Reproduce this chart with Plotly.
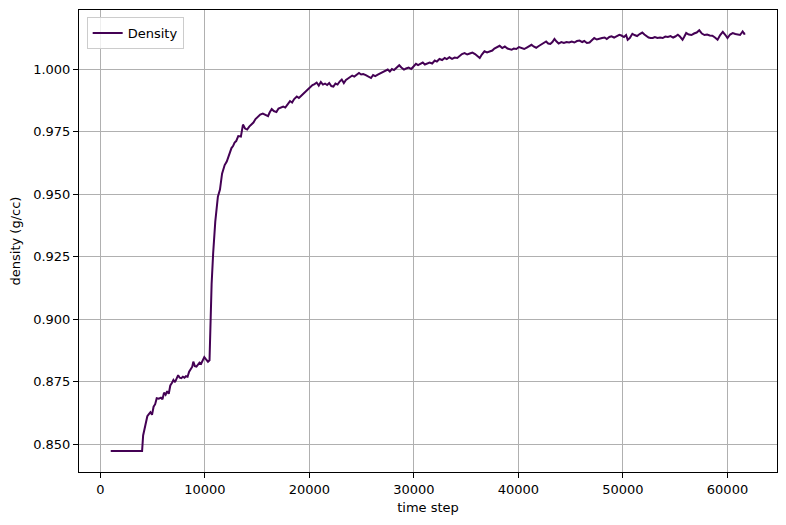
import plotly.graph_objects as go

# time step / density
time_step = [
    1000, 4000, 4100, 4300, 4500, 4650, 4800, 4950, 5100, 5250, 5400, 5600, 5800, 5950,
    6100, 6250, 6400, 6550, 6700, 6850, 7000, 7150, 7300, 7450, 7600, 7750, 7900, 8050,
    8200, 8350, 8500, 8650, 8800, 8900, 9050, 9200, 9350, 9500, 9650, 9800, 9950, 10100,
    10300, 10450, 10550, 10650, 10800, 11000, 11250, 11450, 11650, 11900, 12100, 12250,
    12400, 12550, 12700, 12850, 13000, 13200, 13450, 13650, 13850, 14050, 14250, 14450,
    14650, 14850, 15100, 15300, 15550, 15800, 16050, 16200, 16400, 16600, 16850, 17050,
    17250, 17500, 17700, 17950, 18150, 18350, 18550, 18800, 19000, 19250, 19500, 19700,
    19900, 20100, 20300, 20500, 20700, 20900, 21100, 21300, 21500, 21700, 21900, 22100,
    22300, 22500, 22700, 22900, 23100, 23300, 23500, 23700, 23900, 24100, 24300, 24500,
    24750, 24950, 25150, 25400, 25650, 25900, 26100, 26300, 26550, 26800, 27050, 27300,
    27500, 27700, 27900, 28100, 28350, 28600, 28800, 29050, 29250, 29500, 29750, 30000,
    30200, 30400, 30600, 30850, 31050, 31300, 31500, 31750, 32000, 32200, 32450, 32700,
    32950, 33150, 33400, 33650, 33900, 34150, 34400, 34600, 34850, 35100, 35350, 35600,
    35850, 36050, 36300, 36500, 36750, 37000, 37250, 37500, 37700, 37950, 38200, 38450,
    38700, 38950, 39150, 39350, 39550, 39800, 40050, 40300, 40550, 40800, 41000, 41250,
    41450, 41700, 41950, 42200, 42450, 42650, 42850, 43050, 43250, 43450, 43650, 43850,
    44100, 44350, 44600, 44850, 45100, 45350, 45600, 45850, 46100, 46300, 46550, 46800,
    47050, 47250, 47500, 47750, 48000, 48250, 48450, 48700, 48900, 49150, 49400, 49650,
    49850, 50100, 50300, 50450, 50650, 50900, 51100, 51350, 51600, 51850, 52050, 52250,
    52450, 52650, 52850, 53050, 53300, 53550, 53800, 54050, 54300, 54550, 54800, 55000,
    55250, 55450, 55700, 55850, 56050, 56300, 56550, 56800, 57050, 57300, 57550, 57800,
    58050, 58300, 58550, 58800, 59050, 59300, 59550, 59800, 60000, 60250, 60500, 60750,
    61000, 61200, 61450, 61600, 61700,
]
density = [
    0.8473, 0.8473, 0.8535, 0.8575, 0.8612, 0.8620, 0.8628, 0.8618, 0.8650, 0.8660, 0.8684, 0.8682, 0.8686, 0.8680,
    0.8706, 0.8698, 0.8712, 0.8702, 0.8735, 0.8745, 0.8757, 0.8748, 0.8762, 0.8776, 0.8766, 0.8764, 0.8770, 0.8766,
    0.8772, 0.8770, 0.8790, 0.8798, 0.8810, 0.8830, 0.8812, 0.8810, 0.8820, 0.8826, 0.8822, 0.8838, 0.8848, 0.8840,
    0.8830, 0.8836, 0.9020, 0.9140, 0.9264, 0.9390, 0.9490, 0.9518, 0.9582, 0.9616, 0.9630, 0.9648,
    0.9668, 0.9684, 0.9692, 0.9706, 0.9712, 0.9732, 0.9730, 0.9778, 0.9762, 0.9758, 0.9770, 0.9778,
    0.9786, 0.9800, 0.9810, 0.9818, 0.9822, 0.9818, 0.9812, 0.9826, 0.9840, 0.9832, 0.9828, 0.9842,
    0.9846, 0.9850, 0.9846, 0.9860, 0.9872, 0.9866, 0.9880, 0.9890, 0.9884, 0.9894, 0.9902, 0.9912,
    0.9920, 0.9930, 0.9936, 0.9940, 0.9946, 0.9934, 0.9948, 0.9938, 0.9942, 0.9936, 0.9944, 0.9932,
    0.9930, 0.9942, 0.9938, 0.9950, 0.9958, 0.9944, 0.9956, 0.9962, 0.9968, 0.9974, 0.9970, 0.9978,
    0.9984, 0.9978, 0.9980, 0.9976, 0.9970, 0.9964, 0.9976, 0.9972, 0.9978, 0.9984, 0.9990, 0.9994,
    0.9998, 0.9990, 1.0000, 0.9996, 1.0004, 1.0015, 1.0006, 0.9998, 1.0002, 1.0006, 1.0000, 1.0014,
    1.0021, 1.0016, 1.0020, 1.0026, 1.0018, 1.0024, 1.0026, 1.0022, 1.0034, 1.0030, 1.0040, 1.0036,
    1.0044, 1.0040, 1.0047, 1.0041, 1.0046, 1.0044, 1.0052, 1.0060, 1.0064, 1.0058, 1.0062, 1.0066,
    1.0060, 1.0054, 1.0044, 1.0058, 1.0071, 1.0066, 1.0070, 1.0074, 1.0082, 1.0088, 1.0093, 1.0084,
    1.0090, 1.0082, 1.0078, 1.0077, 1.0082, 1.0080, 1.0088, 1.0084, 1.0080, 1.0086, 1.0090, 1.0097,
    1.0090, 1.0085, 1.0092, 1.0098, 1.0104, 1.0110, 1.0102, 1.0100, 1.0108, 1.0120, 1.0110, 1.0102,
    1.0108, 1.0104, 1.0108, 1.0106, 1.0110, 1.0106, 1.0112, 1.0114, 1.0108, 1.0112, 1.0104, 1.0106,
    1.0116, 1.0124, 1.0118, 1.0122, 1.0124, 1.0126, 1.0120, 1.0128, 1.0131, 1.0126, 1.0132, 1.0137,
    1.0134, 1.0128, 1.0136, 1.0117, 1.0124, 1.0141, 1.0136, 1.0132, 1.0140, 1.0146, 1.0138, 1.0130,
    1.0126, 1.0124, 1.0124, 1.0128, 1.0124, 1.0126, 1.0124, 1.0130, 1.0128, 1.0132, 1.0126, 1.0130,
    1.0137, 1.0130, 1.0117, 1.0128, 1.0144, 1.0138, 1.0136, 1.0142, 1.0146, 1.0155, 1.0142, 1.0136,
    1.0138, 1.0134, 1.0133, 1.0126, 1.0117, 1.0136, 1.0149, 1.0136, 1.0124, 1.0138, 1.0144, 1.0140,
    1.0138, 1.0136, 1.0150, 1.0141, 1.0142,
]

x_ticks = [0, 10000, 20000, 30000, 40000, 50000, 60000]
y_ticks = [0.850, 0.875, 0.900, 0.925, 0.950, 0.975, 1.000]

fig = go.Figure()
fig.add_trace(go.Scatter(x=time_step, y=density, mode="lines", name="Density",
                         line=dict(color="#440154", width=2)))

axis_style = dict(showline=True, linecolor="black", linewidth=1, mirror=True,
                  ticks="outside", ticklen=5, tickwidth=1, tickcolor="black",
                  showgrid=True, gridcolor="#b0b0b0", gridwidth=1, zeroline=False,
                  automargin=False, tickfont=dict(size=13, color="black"))

fig.update_layout(
    width=786, height=525,
    paper_bgcolor="white", plot_bgcolor="white",
    font=dict(family="DejaVu Sans", size=13, color="black"),
    margin=dict(l=79, r=9, t=10, b=53),
    showlegend=True,
    legend=dict(x=0.011, y=0.985, xanchor="left", yanchor="top",
                bgcolor="rgba(255,255,255,0.8)", bordercolor="#cccccc", borderwidth=1,
                font=dict(size=13)),
    xaxis=dict(range=[-2035, 64735], tickvals=x_ticks, tickformat="d",
               title=dict(text="time step", font=dict(size=13), standoff=7), **axis_style),
    yaxis=dict(range=[0.8389, 1.0236], tickvals=y_ticks, tickformat=".3f",
               title=dict(text="density (g/cc)", font=dict(size=13), standoff=9), **axis_style),
)

# drop the default body margin so the figure sits at the page corner
fig.write_html("out.html", config={"displayModeBar": False},
               post_script="document.body.style.margin='0px';")
